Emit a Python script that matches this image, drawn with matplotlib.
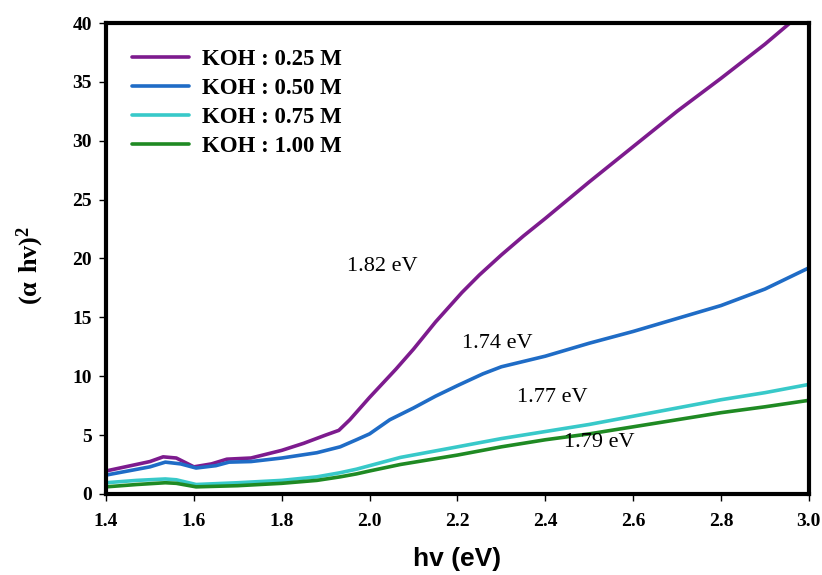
import matplotlib
matplotlib.use('Agg')
import matplotlib.pyplot as plt

# photon energy (eV) and (alpha h nu)^2
hv_025 = [1.40, 1.45, 1.50, 1.53, 1.56, 1.60, 1.64, 1.675, 1.73, 1.80, 1.85, 1.90, 1.93, 1.955, 2.00,
          2.06, 2.10, 2.15, 2.21, 2.25, 2.30, 2.35, 2.40, 2.50, 2.60, 2.70, 2.80, 2.90, 2.957]
ah_025 = [1.95, 2.35, 2.75, 3.15, 3.05, 2.3, 2.55, 2.95, 3.05, 3.7, 4.3, 5.0, 5.4, 6.3, 8.2,
          10.6, 12.3, 14.6, 17.1, 18.6, 20.3, 21.9, 23.4, 26.5, 29.5, 32.5, 35.3, 38.2, 40.0]

hv_050 = [1.40, 1.45, 1.50, 1.535, 1.57, 1.605, 1.65, 1.68, 1.73, 1.80, 1.88, 1.933, 1.97, 2.00, 2.046,
          2.10, 2.15, 2.20, 2.258, 2.30, 2.40, 2.50, 2.60, 2.70, 2.80, 2.90, 3.00]
ah_050 = [1.6, 1.95, 2.3, 2.7, 2.55, 2.2, 2.4, 2.7, 2.75, 3.05, 3.5, 4.0, 4.6, 5.1, 6.3,
          7.3, 8.3, 9.2, 10.2, 10.8, 11.7, 12.8, 13.8, 14.9, 16.0, 17.4, 19.2]

hv_075 = [1.40, 1.47, 1.535, 1.56, 1.605, 1.70, 1.80, 1.88, 1.933, 1.97, 2.00, 2.07, 2.20, 2.30, 2.40,
          2.50, 2.60, 2.70, 2.80, 2.90, 3.00]
ah_075 = [0.95, 1.15, 1.27, 1.2, 0.8, 0.95, 1.15, 1.45, 1.8, 2.1, 2.4, 3.1, 4.0, 4.7, 5.3,
          5.9, 6.6, 7.3, 8.0, 8.6, 9.3]

hv_100 = [1.40, 1.47, 1.535, 1.56, 1.605, 1.70, 1.80, 1.88, 1.933, 1.97, 2.00, 2.07, 2.20, 2.30, 2.40,
          2.50, 2.60, 2.70, 2.80, 2.90, 3.00]
ah_100 = [0.6, 0.8, 0.95, 0.9, 0.6, 0.7, 0.9, 1.15, 1.45, 1.7, 1.95, 2.5, 3.3, 4.0, 4.6,
          5.1, 5.7, 6.3, 6.9, 7.4, 7.95]

labels = ['KOH : 0.25 M', 'KOH : 0.50 M', 'KOH : 0.75 M', 'KOH : 1.00 M']
colors = ['#7d1b8e', '#1f6cc6', '#38c9c9', '#1f8a23']

# band gap labels and where they sit
gaps = ['1.82 eV', '1.74 eV', '1.77 eV', '1.79 eV']
gap_x = [2.028, 2.29, 2.417, 2.524]
gap_y = [19.3, 12.8, 8.2, 4.4]

plt.rcParams['mathtext.fontset'] = 'custom'
plt.rcParams['mathtext.rm'] = 'Liberation Serif'
plt.rcParams['mathtext.bf'] = 'Liberation Serif:bold'

fig = plt.figure(figsize=(8.22, 5.75), dpi=100)
ax = fig.add_axes([0.129, 0.141, 0.855, 0.819])

series = [(hv_025, ah_025), (hv_050, ah_050), (hv_075, ah_075), (hv_100, ah_100)]
for (x, y), lab, c in zip(series, labels, colors):
    ax.plot(x, y, color=c, lw=2.6, label=lab, solid_capstyle='round')

for t, x, y in zip(gaps, gap_x, gap_y):
    ax.text(x, y, t, ha='center', va='center', fontsize=16, family='Liberation Serif')

ax.set_xlim(1.4, 3.0)
ax.set_ylim(0, 40)
ax.set_xticks([1.4, 1.6, 1.8, 2.0, 2.2, 2.4, 2.6, 2.8, 3.0])
ax.set_xticklabels(['%.1f' % v for v in ax.get_xticks()])
ax.set_yticks(range(0, 41, 5))

for lab in ax.get_xticklabels() + ax.get_yticklabels():
    lab.set_family('Liberation Serif')
    lab.set_fontweight('bold')
    lab.set_fontsize(14)
ax.tick_params(direction='out', length=5, width=1)
ax.tick_params(axis='x', pad=9)
ax.tick_params(axis='y', pad=5)

for s in ax.spines.values():
    s.set_linewidth(3)

ax.set_xlabel('hv (eV)', family='Liberation Sans', fontweight='bold', fontsize=19)
ax.xaxis.set_label_coords(0.5, -0.112)
ax.set_ylabel(r'$\mathbf{(\alpha\ hv)^{2}}$', fontsize=19)
ax.yaxis.set_label_coords(-0.085, 0.485)

leg = ax.legend(loc='upper left', frameon=False, bbox_to_anchor=(0.018, 0.975),
                handlelength=2.45, handletextpad=0.6, labelspacing=0.36, borderaxespad=0.2,
                prop={'family': 'Liberation Serif', 'weight': 'bold', 'size': 16.5})

fig.savefig('out.png', dpi=100)
